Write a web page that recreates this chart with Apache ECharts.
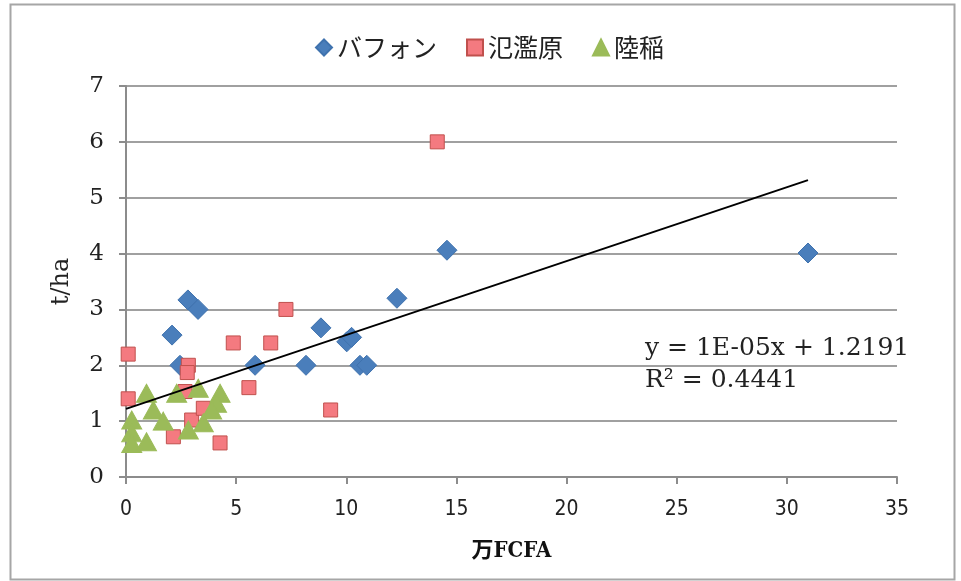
<!DOCTYPE html>
<html><head><meta charset="utf-8">
<script src="https://cdn.jsdelivr.net/npm/echarts@6/dist/echarts.min.js"></script>
<style>html,body{margin:0;padding:0;background:#fff}#c{width:961px;height:581px}</style>
</head><body><div id="c"></div>
<script>
const seriesNames = ['バフォン', '氾濫原', '陸稲'];
const bafon = [[2.09,2.54],[2.45,2.0],[2.81,3.17],[3.27,3.0],[5.86,2.0],[8.17,2.0],[8.85,2.67],[10.02,2.42],[10.24,2.5],[10.62,2.0],[10.93,2.0],[12.3,3.2],[14.57,4.06],[30.96,4.01]];
const floodplain = [[0.1,2.2],[0.1,1.4],[2.15,0.72],[2.83,2.0],[2.78,1.87],[2.68,1.53],[2.98,1.02],[3.51,1.23],[4.27,0.61],[4.87,2.4],[5.58,1.6],[6.57,2.4],[7.26,3.0],[9.29,1.2],[14.13,6.0]];
const uplandRice = [[0.93,1.5],[1.24,1.2],[0.26,1.02],[0.26,0.79],[0.26,0.6],[0.93,0.63],[1.69,1.0],[2.3,1.5],[3.28,1.59],[4.27,1.5],[4.11,1.32],[3.89,1.2],[3.51,0.97],[2.83,0.84]];
const trendLine = [[0,1.2191],[30.96,5.315]];
const equationText = ['y = 1E-05x + 1.2191', 'R² = 0.4441'];
const xName = '万FCFA', yName = 't/ha';

const chart = echarts.init(document.getElementById('c'), null, {renderer:'canvas'});
const serif = '"DejaVu Serif", "Liberation Serif", serif';
const cjk = '"Noto Sans CJK JP", sans-serif';
const narrow = '"DejaVu Sans Condensed", "Liberation Sans Narrow", "Liberation Sans", sans-serif';
chart.setOption({
  animation:false,
  backgroundColor:'#fff',
  grid:{left:126, right:64, top:86, bottom:104},
  legend:{
    left:310, top:30, itemWidth:16, itemHeight:16, itemGap:29,
    textStyle:{fontFamily:cjk, fontSize:25, color:'#222'},
    data:[{name:seriesNames[0], icon:'diamond'},{name:seriesNames[1], icon:'rect'},{name:seriesNames[2], icon:'triangle'}]
  },
  xAxis:{
    type:'value', min:0, max:35, interval:5,
    name:xName, nameLocation:'middle', nameGap:63,
    nameTextStyle:{fontFamily:'"DejaVu Serif Condensed", "DejaVu Serif", '+cjk, fontWeight:'bold', fontSize:22, color:'#111'},
    axisLine:{show:true, onZero:false, lineStyle:{color:'#8c8c8c', width:2}},
    axisTick:{show:true, length:7, lineStyle:{color:'#8c8c8c', width:2}},
    axisLabel:{margin:22, fontFamily:narrow, fontSize:21, color:'#222'},
    splitLine:{show:false}
  },
  yAxis:{
    type:'value', min:0, max:7, interval:1,
    name:yName, nameLocation:'middle', nameGap:52,
    nameTextStyle:{fontFamily:serif, fontSize:24, color:'#222'},
    axisLine:{show:true, lineStyle:{color:'#8c8c8c', width:2}},
    axisTick:{show:true, length:7, lineStyle:{color:'#8c8c8c', width:2}},
    axisLabel:{margin:22, fontFamily:serif, fontSize:23, color:'#222'},
    splitLine:{show:true, lineStyle:{color:'#a0a0a0', width:2}}
  },
  series:[
    {name:seriesNames[0], type:'scatter', symbol:'diamond', symbolSize:20, data:bafon, z:3,
     itemStyle:{color:'#4a7ebb', borderColor:'#3f72ae', borderWidth:1, opacity:1}},
    {name:seriesNames[1], type:'scatter', symbol:'rect', symbolSize:14, data:floodplain, z:4,
     itemStyle:{color:'#f47a80', borderColor:'#c0504d', borderWidth:1, opacity:1}},
    {name:seriesNames[2], type:'scatter', symbol:'triangle', symbolSize:[20,18], data:uplandRice, z:5,
     itemStyle:{color:'#9bbb59', borderColor:'#9bbb59', borderWidth:1, opacity:1}},
    {name:'trend', type:'line', data:trendLine, symbol:'none', z:6, silent:true,
     lineStyle:{color:'#000', width:2}}
  ],
  graphic:[
    {type:'rect', left:8, top:2, shape:{width:944, height:575}, style:{fill:'none', stroke:'#a6a6a6', lineWidth:2}, z:-1},
    {type:'text', left:645, top:336, style:{text:equationText[0], font:'25px '+serif, fill:'#222'}},
    {type:'text', left:645, top:368, style:{text:equationText[1], font:'25px '+serif, fill:'#222'}}
  ]
});
</script></body></html>
